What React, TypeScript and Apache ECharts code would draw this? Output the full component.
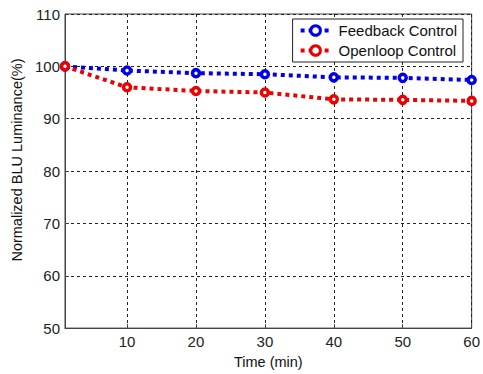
import React, { useEffect, useRef } from "react";
import * as echarts from "echarts";

const timeMin = [1, 10, 20, 30, 40, 50, 60];
const feedback = [100, 99.2, 98.7, 98.5, 97.9, 97.8, 97.4];
const openloop = [100, 96.0, 95.3, 95.0, 93.7, 93.6, 93.4];
const xTicks = [10, 20, 30, 40, 50, 60];
const seriesNames = ["Feedback Control", "Openloop Control"];

const FONT = "'Liberation Sans', Arial, sans-serif";

export default function App() {
  const ref = useRef<HTMLDivElement>(null);
  useEffect(() => {
    if (!ref.current) return;
    const chart = echarts.init(ref.current, undefined, { renderer: "svg" });
    const mk = (name: string, data: number[], color: string) => ({
      name,
      type: "line",
      data: timeMin.map((t, i) => [t, data[i]]),
      symbol: "circle",
      symbolSize: 7,
      lineStyle: { color, width: 4, type: [4, 4] },
      itemStyle: { color: "#fff", borderColor: color, borderWidth: 3.5 },
      z: 3,
    });
    chart.setOption({
      animation: false,
      backgroundColor: "#fff",
      textStyle: { fontFamily: FONT },
      grid: {
        left: 65,
        right: 10,
        top: 14,
        bottom: 41,
        show: true,
        borderColor: "#444",
        borderWidth: 1,
      },
      legend: {
        orient: "vertical",
        right: 20,
        top: 19,
        backgroundColor: "#fff",
        borderColor: "#222",
        borderWidth: 1,
        borderRadius: 0,
        padding: [4, 6, 4, 6],
        itemGap: 5,
        itemWidth: 30,
        itemHeight: 12,
        lineStyle: { width: 4, type: [4, 4] },
        itemStyle: { borderWidth: 3 },
        textStyle: { fontSize: 15, color: "#111", fontFamily: FONT, padding: [0, 0, 0, 3] },
        data: seriesNames,
      },
      xAxis: {
        type: "value",
        min: 1,
        max: 60,
        name: "Time (min)",
        nameLocation: "middle",
        nameGap: 25,
        nameTextStyle: { fontSize: 14.5, color: "#111", fontFamily: FONT },
        axisLine: { show: true, lineStyle: { color: "#444" } },
        axisTick: { show: true, inside: true, length: 4, customValues: xTicks, lineStyle: { color: "#444" } },
        axisLabel: { customValues: xTicks, fontSize: 15, color: "#222", margin: 6, fontFamily: FONT },
        splitLine: { show: true, lineStyle: { color: "#222", type: [3, 3], width: 1 } },
      },
      yAxis: {
        type: "value",
        min: 50,
        max: 110,
        interval: 10,
        name: "Normalized BLU Luminance(%)",
        nameLocation: "middle",
        nameGap: 34,
        nameTextStyle: { fontSize: 14.5, color: "#111", fontFamily: FONT, padding: [0, 0, 0, 22] },
        axisLine: { show: true, lineStyle: { color: "#444" } },
        axisTick: { show: true, inside: true, length: 4, lineStyle: { color: "#444" } },
        axisLabel: { fontSize: 15, color: "#222", margin: 5, fontFamily: FONT },
        splitLine: { show: true, lineStyle: { color: "#222", type: [3, 3], width: 1 } },
      },
      series: [mk(seriesNames[0], feedback, "#0000ee"), mk(seriesNames[1], openloop, "#ee0000")],
    });
    return () => chart.dispose();
  }, []);
  return <div ref={ref} style={{ width: 483, height: 374, position: "absolute", left: 0, top: 0 }} />;
}
